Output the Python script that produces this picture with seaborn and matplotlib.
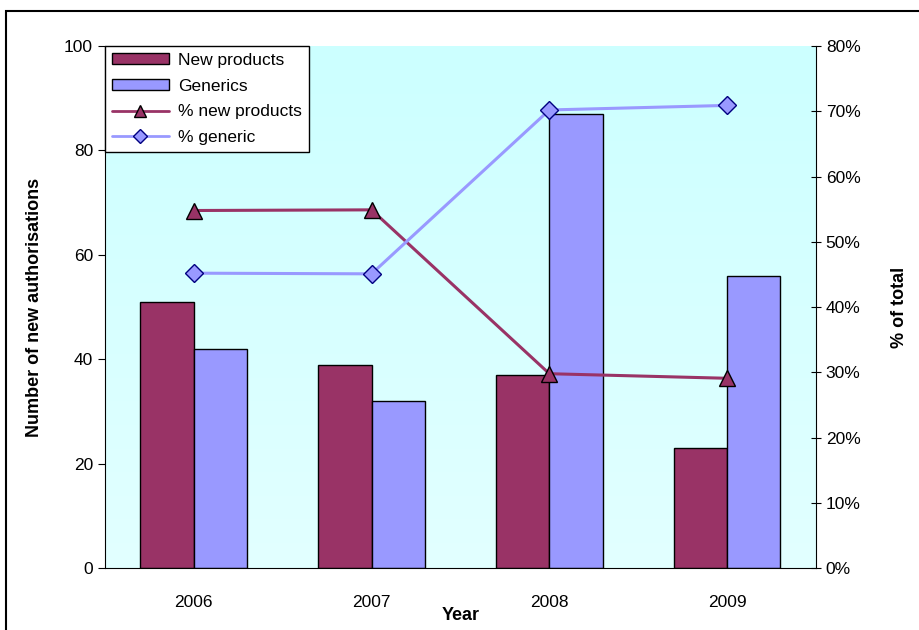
import numpy as np
import pandas as pd
import matplotlib
matplotlib.use("Agg")
import matplotlib.pyplot as plt
import seaborn as sns
from matplotlib.ticker import PercentFormatter
from matplotlib.patches import Rectangle
from matplotlib.lines import Line2D

# data
years = ["2006", "2007", "2008", "2009"]
new_products = [51, 39, 37, 23]
generics = [42, 32, 87, 56]
pct_new = [54.8, 54.9, 29.8, 29.1]
pct_generic = [45.2, 45.1, 70.2, 70.9]

maroon = "#993366"
lavender = "#9999FF"

sns.set_style("white")
plt.rcParams["font.family"] = ["Liberation Sans", "DejaVu Sans"]
plt.rcParams["text.color"] = "black"
plt.rcParams["axes.labelcolor"] = "black"
plt.rcParams["xtick.color"] = "black"
plt.rcParams["ytick.color"] = "black"

df_bars = pd.DataFrame({
    "year": years * 2,
    "count": new_products + generics,
    "type": ["New products"] * 4 + ["Generics"] * 4,
})
df_pct = pd.DataFrame({
    "year": years * 2,
    "pct": pct_new + pct_generic,
    "series": ["% new products"] * 4 + ["% generic"] * 4,
})

fig = plt.figure(figsize=(9.2, 6.3), dpi=100)
ax = fig.add_axes([0.114, 0.098, 0.773, 0.829])

# background gradient: darker cyan at the top, lighter at the bottom
grad = np.linspace(0, 1, 256).reshape(-1, 1)
cmap = matplotlib.colors.LinearSegmentedColormap.from_list("bg", ["#CCFFFF", "#E2FFFF"])
ax.imshow(grad, aspect="auto", cmap=cmap, extent=[0, 1, 0, 1], origin="upper",
          transform=ax.transAxes, zorder=0)

sns.barplot(data=df_bars, x="year", y="count", hue="type",
            palette=[maroon, lavender], width=0.6, edgecolor="black",
            linewidth=1.0, saturation=1, legend=False, ax=ax, zorder=2)
ax.set_xlim(-0.5, 3.5)
ax.set_ylim(0, 100)
ax.set_yticks(range(0, 101, 20))
ax.set_xticks([0, 1, 2, 3])
ax.set_xticks([-0.5, 0.5, 1.5, 2.5, 3.5], minor=True)
ax.tick_params(axis="x", which="major", length=0, labelsize=12.5, pad=19)
ax.tick_params(axis="x", which="minor", length=6, direction="inout", width=0.8)
ax.tick_params(axis="y", length=5, direction="out", labelsize=12.5, width=0.8, left=True)
ax.set_xlabel("Year", fontsize=13, fontweight="bold", labelpad=-2)
ax.set_ylabel("Number of new authorisations", fontsize=13, fontweight="bold", labelpad=15)
for s in ["top", "right"]:
    ax.spines[s].set_visible(False)
for s in ["left", "bottom"]:
    ax.spines[s].set_color("black")
    ax.spines[s].set_linewidth(0.8)

ax2 = ax.twinx()
sns.pointplot(data=df_pct[df_pct["series"] == "% new products"], x="year", y="pct",
              color=maroon, markers="^", linewidth=2.2, markersize=11,
              markeredgecolor="black", markeredgewidth=1, ax=ax2)
sns.pointplot(data=df_pct[df_pct["series"] == "% generic"], x="year", y="pct",
              color=lavender, markers="D", linewidth=2.2, markersize=9,
              markeredgecolor="#000080", markeredgewidth=1, ax=ax2)
ax2.set_xlim(-0.5, 3.5)
ax2.set_ylim(0, 80)
ax2.set_yticks(range(0, 81, 10))
ax2.yaxis.set_major_formatter(PercentFormatter(decimals=0))
ax2.tick_params(axis="y", length=7, direction="inout", labelsize=12.5, width=0.8, right=True)
ax2.set_ylabel("% of total", fontsize=13, fontweight="bold", labelpad=22)
for s in ["top", "left", "bottom"]:
    ax2.spines[s].set_visible(False)
ax2.spines["right"].set_color("black")
ax2.spines["right"].set_linewidth(0.8)
ax2.set_xlabel("")

handles = [
    Rectangle((0, 0), 1, 1, facecolor=maroon, edgecolor="black"),
    Rectangle((0, 0), 1, 1, facecolor=lavender, edgecolor="black"),
    Line2D([], [], color=maroon, lw=2, marker="^", markersize=9,
           markerfacecolor=maroon, markeredgecolor="black"),
    Line2D([], [], color=lavender, lw=2, marker="D", markersize=7,
           markerfacecolor=lavender, markeredgecolor="#000080"),
]
labels = ["New products", "Generics", "% new products", "% generic"]
leg = ax2.legend(handles, labels, loc="upper left", bbox_to_anchor=(0.0, 1.0),
                 frameon=True, fancybox=False, edgecolor="black", fontsize=12.5,
                 borderpad=0.4, labelspacing=0.62, handlelength=3.3,
                 handleheight=0.6, handletextpad=0.5, borderaxespad=0.0)
leg.get_frame().set_linewidth(1.0)
leg.get_frame().set_facecolor("white")
leg.get_frame().set_alpha(1)

# outer chart border
fig.patches.append(Rectangle((0.006, -0.05), 1.1, 1.033, transform=fig.transFigure,
                             fill=False, edgecolor="black", linewidth=1.5))

fig.savefig("out.png", dpi=100)
